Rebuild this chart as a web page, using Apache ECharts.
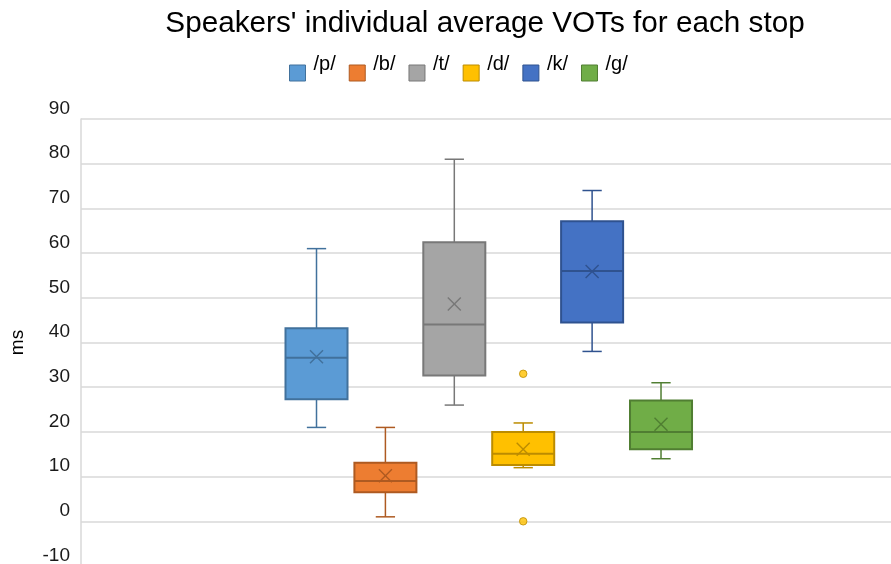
<!DOCTYPE html>
<html><head><meta charset="utf-8">
<script src="https://cdn.jsdelivr.net/npm/echarts@6/dist/echarts.min.js"></script>
<style>html,body{margin:0;padding:0;background:#fff;overflow:hidden}#c{width:891px;height:564px}</style>
</head><body><div id="c"></div>
<script>
// ---- data ----
const stops = ['/p/', '/b/', '/t/', '/d/', '/k/', '/g/'];
const whiskerMin = [21, 1, 26, 12, 38, 14];
const q1Values = [27.3, 6.5, 32.6, 12.6, 44.5, 16.1];
const medianValues = [36.6, 9, 44, 15.1, 56, 20];
const q3Values = [43.2, 13.1, 62.4, 20, 67.1, 27];
const whiskerMax = [61, 21, 81, 22, 74, 31];
const meanValues = [36.8, 10.2, 48.6, 16.1, 55.9, 21.7];
const outliersD = [33, 0];
const yMin = -10, yMax = 90, yStep = 10;

// ---- styles ----
const fills = ['#5B9BD5', '#ED7D31', '#A5A5A5', '#FFC000', '#4472C4', '#70AD47'];
const strokes = ['#41719C', '#AE5A21', '#787878', '#BC8C00', '#2F528F', '#507E32'];
const FONT = "'Liberation Sans', Arial, sans-serif";
const BOX_W = 0.9, CAP_W = 0.28, X_HALF = 6.5;

function renderItem(params, api) {
  const i = api.value(0);
  const f = fills[i], s = strokes[i];
  const pMin = api.coord([i, api.value(1)]);
  const pQ1 = api.coord([i, api.value(2)]);
  const pMed = api.coord([i, api.value(3)]);
  const pQ3 = api.coord([i, api.value(4)]);
  const pMax = api.coord([i, api.value(5)]);
  const pMean = api.coord([i, api.value(6)]);
  const cx = pMed[0];
  const w = api.size([BOX_W, 0])[0];
  const cw = api.size([CAP_W, 0])[0];
  const line = (x1, y1, x2, y2, lw) => ({
    type: 'line', shape: { x1, y1, x2, y2 },
    style: { stroke: s, lineWidth: lw || 1.5 }
  });
  return {
    type: 'group',
    children: [
      line(cx, pQ3[1], cx, pMax[1]),
      line(cx - cw / 2, pMax[1], cx + cw / 2, pMax[1]),
      line(cx, pQ1[1], cx, pMin[1]),
      line(cx - cw / 2, pMin[1], cx + cw / 2, pMin[1]),
      { type: 'rect', shape: { x: cx - w / 2, y: pQ3[1], width: w, height: pQ1[1] - pQ3[1] },
        style: { fill: f, stroke: s, lineWidth: 2 } },
      line(cx - w / 2, pMed[1], cx + w / 2, pMed[1], 2),
      line(cx - X_HALF, pMean[1] - X_HALF, cx + X_HALF, pMean[1] + X_HALF, 1.4),
      line(cx - X_HALF, pMean[1] + X_HALF, cx + X_HALF, pMean[1] - X_HALF, 1.4)
    ]
  };
}

const series = stops.map((name, i) => ({
  name, type: 'custom', renderItem,
  itemStyle: { color: fills[i], borderColor: strokes[i] },
  data: [[i, whiskerMin[i], q1Values[i], medianValues[i], q3Values[i], whiskerMax[i], meanValues[i]]],
  encode: { x: 0, y: [1, 2, 3, 4, 5] },
  z: 3
}));
series.push({
  name: '/d/', type: 'scatter', symbol: 'circle', symbolSize: 7.5,
  itemStyle: { color: fills[3], borderColor: strokes[3], borderWidth: 1 },
  data: outliersD.map(v => [3, v]), z: 4
});

const chart = echarts.init(document.getElementById('c'));
chart.setOption({
  animation: false,
  backgroundColor: '#fff',
  textStyle: { fontFamily: FONT },
  title: {
    text: "Speakers' individual average VOTs for each stop",
    left: 485, top: 9, textAlign: 'center', padding: 0,
    textStyle: { fontFamily: FONT, fontSize: 29.7, fontWeight: 'normal', color: '#000' }
  },
  legend: {
    data: stops.map((n, i) => ({ name: n, itemStyle: { color: fills[i], borderColor: strokes[i], borderWidth: 1 } })),
    left: 289, top: 54, padding: 0, icon: 'rect', itemWidth: 16, itemHeight: 16, itemGap: 13,
    formatter: '{a|{name}}',
    textStyle: { fontFamily: FONT, fontSize: 20, color: '#000',
      rich: { a: { fontFamily: FONT, fontSize: 20, color: '#000', padding: [0, 0, 18, 3] } } }
  },
  grid: { left: 81, right: -6, top: 119, bottom: -2, containLabel: false, outerBoundsMode: 'none' },
  xAxis: { type: 'value', min: -3.418, max: 8.425, show: false, splitLine: { show: false } },
  yAxis: {
    type: 'value', min: yMin, max: yMax, interval: yStep,
    name: 'ms', nameLocation: 'middle', nameGap: 54, nameRotate: 90,
    nameTextStyle: { fontFamily: FONT, fontSize: 19, color: '#000' },
    axisLine: { show: true, onZero: false, lineStyle: { color: '#d9d9d9', width: 1.5 } },
    axisTick: { show: false },
    axisLabel: { fontFamily: FONT, fontSize: 19, color: '#1a1a1a', margin: 11,
      formatter: '{a|{value}}',
      rich: { a: { fontFamily: FONT, fontSize: 19, color: '#1a1a1a', padding: [0, 0, 21, 0] } } },
    splitLine: { show: true, lineStyle: { color: '#d9d9d9', width: 1.5 } }
  },
  series
});
</script></body></html>
